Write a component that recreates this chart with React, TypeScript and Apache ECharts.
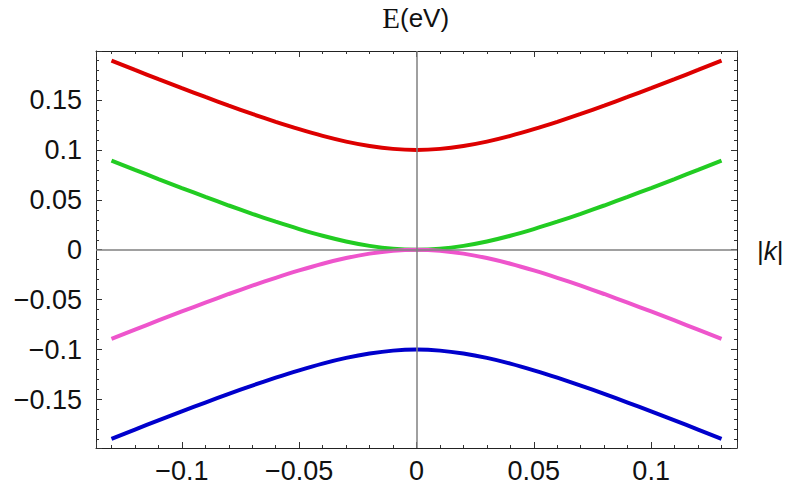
import React, { useEffect, useRef } from "react";
import * as echarts from "echarts";

const kValues = [-0.13, -0.12, -0.11, -0.1, -0.09, -0.08, -0.07, -0.06, -0.05, -0.04, -0.03, -0.02, -0.01, 0, 0.01, 0.02, 0.03, 0.04, 0.05, 0.06, 0.07, 0.08, 0.09, 0.1, 0.11, 0.12, 0.13];
const redBand = [0.1893, 0.18, 0.1708, 0.1618, 0.153, 0.1443, 0.136, 0.1281, 0.1207, 0.114, 0.1083, 0.1039, 0.101, 0.1, 0.101, 0.1039, 0.1083, 0.114, 0.1207, 0.1281, 0.136, 0.1443, 0.153, 0.1618, 0.1708, 0.18, 0.1893];
const greenBand = [0.0893, 0.08, 0.0708, 0.0618, 0.053, 0.0443, 0.036, 0.0281, 0.0207, 0.014, 0.0083, 0.0039, 0.001, 0, 0.001, 0.0039, 0.0083, 0.014, 0.0207, 0.0281, 0.036, 0.0443, 0.053, 0.0618, 0.0708, 0.08, 0.0893];
const pinkBand = [-0.0893, -0.08, -0.0708, -0.0618, -0.053, -0.0443, -0.036, -0.0281, -0.0207, -0.014, -0.0083, -0.0039, -0.001, 0, -0.001, -0.0039, -0.0083, -0.014, -0.0207, -0.0281, -0.036, -0.0443, -0.053, -0.0618, -0.0708, -0.08, -0.0893];
const blueBand = [-0.1893, -0.18, -0.1708, -0.1618, -0.153, -0.1443, -0.136, -0.1281, -0.1207, -0.114, -0.1083, -0.1039, -0.101, -0.1, -0.101, -0.1039, -0.1083, -0.114, -0.1207, -0.1281, -0.136, -0.1443, -0.153, -0.1618, -0.1708, -0.18, -0.1893];

const xMin = -0.1366;
const xMax = 0.1366;
const yMin = -0.1985;
const yMax = 0.199;

const fmt = (v: number) => {
  const r = Math.round(v * 1000) / 1000;
  if (r === 0) return "0";
  return (r < 0 ? "\u2212" : "") + String(Math.abs(r));
};

const labelFont = { fontFamily: "'Liberation Sans', Arial, sans-serif", fontSize: 27, color: "#111" };

export default function App() {
  const ref = useRef<HTMLDivElement>(null);
  useEffect(() => {
    if (!ref.current) return;
    const chart = echarts.init(ref.current, undefined, { renderer: "svg" });
    const mk = (vals: number[]) => kValues.map((k, i) => [k, vals[i]]);
    const axisBase = {
      type: "value" as const,
      splitLine: { show: false },
      axisLine: { show: true, onZero: false, lineStyle: { color: "#222", width: 1 } },
      axisTick: { show: true, inside: true, length: 6, lineStyle: { color: "#333" } },
      minorTick: { show: true, splitNumber: 5, length: 3, lineStyle: { color: "#333" } },
    };
    const xBase = { ...axisBase, min: xMin, max: xMax, splitNumber: 5 };
    const yBase = { ...axisBase, min: yMin, max: yMax, splitNumber: 8 };
    const line = (name: string, vals: number[], color: string, z: number) => ({
      name,
      type: "line",
      data: mk(vals),
      smooth: 0.3,
      showSymbol: false,
      symbol: "none",
      z,
      lineStyle: { color, width: 4 },
    });
    chart.setOption({
      animation: false,
      backgroundColor: "#fff",
      grid: { left: 96, right: 51, top: 51, bottom: 46, show: false },
      xAxis: [
        {
          ...xBase,
          position: "bottom",
          axisLabel: { ...labelFont, margin: 9, showMinLabel: false, showMaxLabel: false, formatter: fmt },
        },
        { ...xBase, position: "top", axisLabel: { show: false } },
      ],
      yAxis: [
        {
          ...yBase,
          position: "left",
          axisLabel: { ...labelFont, margin: 14, showMinLabel: false, showMaxLabel: false, formatter: fmt },
        },
        { ...yBase, position: "right", axisLabel: { show: false } },
      ],
      series: [
        line("red", redBand, "#dd0000", 2),
        line("green", greenBand, "#22cc22", 2),
        line("pink", pinkBand, "#ee55cc", 3),
        line("blue", blueBand, "#0000cc", 2),
        {
          type: "line",
          data: [],
          z: 5,
          markLine: {
            silent: true,
            symbol: "none",
            label: { show: false },
            lineStyle: { color: "#808080", width: 1.5, type: "solid" },
            data: [{ xAxis: 0 }, { yAxis: 0 }],
          },
        },
      ],
      graphic: [
        {
          type: "text",
          x: 400,
          y: 18,
          style: {
            text: "E",
            fontFamily: "'Liberation Serif', 'Times New Roman', serif",
            fontSize: 29,
            fill: "#111",
            textAlign: "right",
            textVerticalAlign: "middle",
          },
        },
        {
          type: "text",
          x: 400,
          y: 18,
          style: {
            text: "(eV)",
            fontFamily: "'Liberation Sans', Arial, sans-serif",
            fontSize: 26,
            fill: "#111",
            textAlign: "left",
            textVerticalAlign: "middle",
          },
        },
        {
          type: "text",
          x: 757,
          y: 251,
          style: {
            text: "{n||}{i|k}{n||}",
            textAlign: "left",
            textVerticalAlign: "middle",
            rich: {
              n: { fontFamily: "'Liberation Sans', Arial, sans-serif", fontSize: 26, fill: "#111", color: "#111" },
              i: { fontFamily: "'Liberation Sans', Arial, sans-serif", fontSize: 26, fontStyle: "italic", fill: "#111", color: "#111" },
            },
          },
        },
      ],
    });
    return () => chart.dispose();
  }, []);
  return (
    <div
      ref={ref}
      style={{ position: "fixed", left: 0, top: 0, width: 788, height: 494, background: "#fff" }}
    />
  );
}
